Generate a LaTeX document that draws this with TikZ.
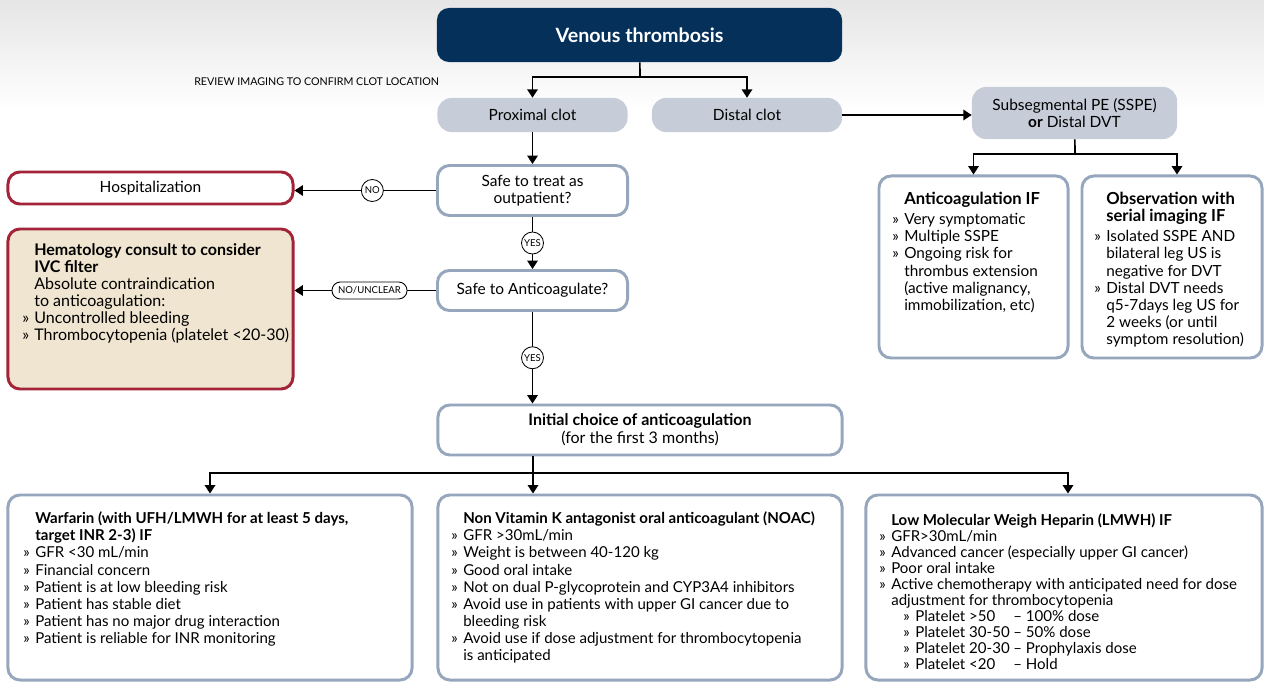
\documentclass[tikz,border=0pt]{standalone}
\usepackage{fontspec}
\setmainfont{Lato}
\usetikzlibrary{arrows.meta, positioning, calc}
\definecolor{navyblue}{RGB}{4,48,90}
\definecolor{clotgray}{RGB}{198,205,217}
\definecolor{boxline}{RGB}{150,166,189}
\definecolor{redline}{RGB}{163,35,56}
\definecolor{beige}{RGB}{240,229,208}
\newcommand{\vtbul}{\makebox[0.3cm][l]{»}}
\newcommand{\vtind}{\hspace*{0.3cm}}
\newcommand{\vtsub}{\hspace*{0.6cm}}
\newcommand{\vtplt}[2]{\vtsub\vtbul\makebox[2.45cm][l]{#1}– #2}
\tikzset{>={Triangle[width=7.5pt,length=6pt]}}

\begin{document}
\begin{tikzpicture}[x=0.025cm, y=-0.025cm,
    every node/.style={font=\fontsize{11}{12.5}\selectfont},
    clot/.style={fill=clotgray, rounded corners=0.35cm, minimum width=4.75cm, minimum height=0.85cm},
    whitebox/.style={draw=boxline, line width=2.1pt, fill=white, rounded corners=0.3cm},
    redbox/.style={draw=redline, line width=2.1pt, rounded corners=0.3cm},
    bodytext/.style={align=left, inner sep=0pt, anchor=north west},
    listtext/.style={bodytext, font=\fontsize{10.7}{12.2}\selectfont},
    yesno/.style={circle, draw, line width=0.6pt, fill=white, inner sep=0pt, minimum size=0.55cm, font=\fontsize{6.8}{8}\selectfont},
    conn/.style={line width=1.2pt}]
  % background
  \fill[white] (0,0) rectangle (1264,682);
  \fill[top color=gray!20, bottom color=white] (0,0) rectangle (1264,110);

  % top of the chart
  \node[fill=navyblue, text=white, rounded corners=0.3cm, minimum width=10.125cm, minimum height=1.35cm,
        font=\fontsize{14}{16}\selectfont\bfseries] (vte) at (639.5,35) {Venous thrombosis};
  \node[anchor=west, inner sep=0pt, font=\fontsize{7.6}{9}\selectfont] (review) at (194,82) {REVIEW IMAGING TO CONFIRM CLOT LOCATION};
  \node[clot] (prox) at (532.5,115) {Proximal clot};
  \node[clot] (dist) at (747,115) {Distal clot};
  \node[clot, minimum width=5.125cm, minimum height=1.3cm, align=center] (sspe) at (1074.5,113) {Subsegmental PE (SSPE)\\\textbf{or} Distal DVT};

  % proximal branch
  \node[whitebox, minimum width=4.75cm, minimum height=1.25cm, align=center] (outpt) at (532.5,190.5) {Safe to treat as\\outpatient?};
  \node[whitebox, minimum width=4.75cm, minimum height=1.0cm] (safeac) at (532.5,290.5) {Safe to Anticoagulate?};
  \node[redbox, fill=white, minimum width=7.125cm, minimum height=0.8cm] (hosp) at (150.5,188) {Hospitalization};
  \node[redbox, fill=beige, minimum width=7.125cm, minimum height=4.0cm] (hema) at (150.5,309) {};
  \node[bodytext, font=\fontsize{11.4}{12.2}\selectfont] (hematxt) at (22,243) {\vtind\textbf{Hematology consult to consider}\\
    \vtind\textbf{IVC filter}\\
    \vtind Absolute contraindication\\
    \vtind to anticoagulation:\\
    \vtbul Uncontrolled bleeding\\
    \vtbul Thrombocytopenia (platelet <20-30)};
  \node[whitebox, minimum width=10.1cm, minimum height=1.25cm, align=center, font=\fontsize{11.4}{13}\selectfont] (init) at (640,430) {\textbf{Initial choice of anticoagulation}\\(for the first 3 months)};

  % distal branch
  \node[whitebox, minimum width=4.725cm, minimum height=4.55cm] (acif) at (973.5,267) {};
  \node[listtext, font=\fontsize{10.9}{12.2}\selectfont] (aciftxt) at (892,192) {\vtind\textbf{\fontsize{11.8}{13}\selectfont Anticoagulation IF}\\[2pt]
    \vtbul Very symptomatic\\
    \vtbul Multiple SSPE\\
    \vtbul Ongoing risk for\\
    \vtind thrombus extension\\
    \vtind (active malignancy,\\
    \vtind immobilization, etc)};
  \node[whitebox, minimum width=4.5cm, minimum height=4.55cm] (obs) at (1172,267) {};
  \node[listtext, font=\fontsize{10.9}{12.2}\selectfont] (obstxt) at (1094,192) {\vtind\textbf{\fontsize{11.8}{13}\selectfont Observation with}\\
    \vtind\textbf{\fontsize{11.8}{13}\selectfont serial imaging IF}\\[2pt]
    \vtbul Isolated SSPE AND\\
    \vtind bilateral leg US is\\
    \vtind negative for DVT\\
    \vtbul Distal DVT needs\\
    \vtind q5-7days leg US for\\
    \vtind 2 weeks (or until\\
    \vtind symptom resolution)};

  % choice of drug
  \node[whitebox, minimum width=10.1cm, minimum height=4.625cm] (warf) at (210,587.5) {};
  \node[listtext] (warftxt) at (23,511.5) {\vtind\textbf{Warfarin (with UFH/LMWH for at least 5 days,}\\
    \vtind\textbf{target INR 2-3) IF}\\
    \vtbul GFR <30 mL/min\\
    \vtbul Financial concern\\
    \vtbul Patient is at low bleeding risk\\
    \vtbul Patient has stable diet\\
    \vtbul Patient has no major drug interaction\\
    \vtbul Patient is reliable for INR monitoring};
  \node[whitebox, minimum width=10.1cm, minimum height=4.625cm] (noac) at (640,587.5) {};
  \node[listtext] (noactxt) at (451,511.5) {\vtind\textbf{Non Vitamin K antagonist oral anticoagulant (NOAC)}\\
    \vtbul GFR >30mL/min\\
    \vtbul Weight is between 40-120 kg\\
    \vtbul Good oral intake\\
    \vtbul Not on dual P-glycoprotein and CYP3A4 inhibitors\\
    \vtbul Avoid use in patients with upper GI cancer due to\\
    \vtind bleeding risk\\
    \vtbul Avoid use if dose adjustment for thrombocytopenia\\
    \vtind is anticipated};
  \node[whitebox, minimum width=9.9cm, minimum height=4.625cm] (lmwh) at (1064,587.5) {};
  \node[listtext, font=\fontsize{10.7}{11.4}\selectfont] (lmwhtxt) at (879,513.5) {\vtind\textbf{Low Molecular Weigh Heparin (LMWH) IF}\\
    \vtbul GFR>30mL/min\\
    \vtbul Advanced cancer (especially upper GI cancer)\\
    \vtbul Poor oral intake\\
    \vtbul Active chemotherapy with anticipated need for dose\\
    \vtind adjustment for thrombocytopenia\\
    \vtplt{Platelet >50}{100\% dose}\\
    \vtplt{Platelet 30-50}{50\% dose}\\
    \vtplt{Platelet 20-30}{Prophylaxis dose}\\
    \vtplt{Platelet <20}{Hold}};

  % connectors
  \coordinate (split) at (640,77);
  \coordinate (ssplit) at (1075,154);
  \coordinate (dsplit) at (533,473);
  \draw[conn] (vte) -- (split);
  \draw[conn, ->] (split) -| (prox);
  \draw[conn, ->] (split) -| (dist);
  \draw[conn, ->] (dist.east) -- (dist.east -| sspe.west);
  \draw[conn] (sspe) -- (ssplit);
  \draw[conn, ->] (ssplit) -| (acif);
  \draw[conn, ->] (ssplit) -| ([xshift=0.125cm]obs.north);
  \draw[conn, ->] (prox) -- (outpt);
  \draw[conn, ->] (outpt) -- node[yesno, pos=0.45] (no1) {NO} (outpt.west -| hosp.east);
  \draw[conn, ->] (outpt) -- node[yesno] (yes1) {YES} (safeac);
  \draw[conn, ->] (safeac) -- node[yesno, rounded corners=0.21cm, rectangle, minimum width=1.875cm, minimum height=0.425cm, pos=0.47] (unclear) {NO/UNCLEAR} (safeac.west -| hema.east);
  \draw[conn, ->] (safeac) -- node[yesno] (yes2) {YES} (init.north -| safeac);
  \draw[conn] (init.south -| dsplit) -- (dsplit);
  \draw[conn, ->] (dsplit) -| (warf);
  \draw[conn, ->] (dsplit) -- (dsplit |- noac.north);
  \draw[conn, ->] (dsplit) -| ([xshift=0.1cm]lmwh.north);
\end{tikzpicture}
\end{document}
